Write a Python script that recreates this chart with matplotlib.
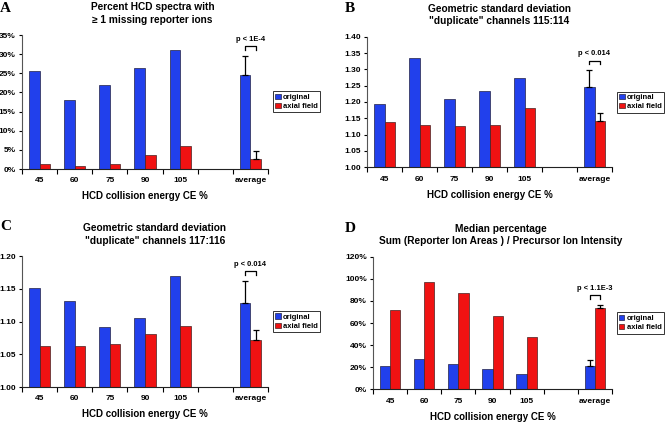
import numpy as np
import matplotlib
matplotlib.use("Agg")
import matplotlib.pyplot as plt
from matplotlib.ticker import FuncFormatter

plt.rcParams['font.family'] = ['Liberation Sans', 'DejaVu Sans']
plt.rcParams['font.weight'] = 'bold'

# categorias del eje x
categorias = ["45", "60", "75", "90", "105", "", "average"]

# A: porcentaje de espectros con >= 1 ion reportero faltante
a_original = [25.7, 18.0, 22.0, 26.3, 31.0, np.nan, 24.5]
a_axial = [1.2, 0.8, 1.2, 3.6, 6.0, np.nan, 2.5]
a_err_original = 5.0
a_err_axial = 2.3

# B: desviacion estandar geometrica 115:114
b_original = [1.194, 1.335, 1.208, 1.233, 1.273, np.nan, 1.247]
b_axial = [1.138, 1.129, 1.127, 1.130, 1.183, np.nan, 1.141]
b_err_original = 0.051
b_err_axial = 0.024

# C: desviacion estandar geometrica 117:116
c_original = [1.151, 1.132, 1.091, 1.105, 1.169, np.nan, 1.129]
c_axial = [1.062, 1.062, 1.065, 1.081, 1.093, np.nan, 1.072]
c_err_original = 0.033
c_err_axial = 0.015

# D: porcentaje mediano
d_original = [21.1, 27.1, 22.6, 18.7, 13.6, np.nan, 20.8]
d_axial = [71.5, 97.1, 86.8, 66.6, 47.3, np.nan, 73.9]
d_err_original = 5.4
d_err_axial = 2.7

AZUL = '#2140ec'
ROJO = '#f01212'

fig = plt.figure(figsize=(6.65, 4.23), dpi=100)
W, H = 665, 423


def ejes(izq, der, arriba, abajo):
    return fig.add_axes([izq / W, 1 - abajo / H, (der - izq) / W, (abajo - arriba) / H])


def panel(ax, orig, axial, err_o, err_a, ylim, yticks, fmt, titulo, p_texto, tx):
    x = np.arange(len(categorias))
    w = 0.3
    ax.bar(x - w / 2, orig, w, color=AZUL, edgecolor='#222244', linewidth=0.5, label='original')
    ax.bar(x + w / 2, axial, w, color=ROJO, edgecolor='#442222', linewidth=0.5, label='axial field')
    # barras de error solo hacia arriba en el promedio
    ax.errorbar(x[-1] - w / 2, orig[-1], yerr=[[0], [err_o]], fmt='none', ecolor='black',
                elinewidth=0.9, capsize=2, capthick=0.9)
    ax.errorbar(x[-1] + w / 2, axial[-1], yerr=[[0], [err_a]], fmt='none', ecolor='black',
                elinewidth=0.9, capsize=2, capthick=0.9)
    ax.set_xlim(-0.5, len(categorias) - 0.5)
    ax.set_ylim(*ylim)
    ax.set_yticks(yticks)
    ax.yaxis.set_major_formatter(FuncFormatter(fmt))
    ax.set_xticks(np.arange(len(categorias) + 1) - 0.5)
    ax.set_xticklabels([])
    ax.set_xticks(x, minor=True)
    ax.set_xticklabels(categorias, minor=True)
    ax.tick_params(axis='x', which='major', length=3.5, width=0.8, direction='out')
    ax.tick_params(axis='x', which='minor', length=0, pad=6, labelsize=6)
    ax.tick_params(axis='y', length=2.5, width=0.8, labelsize=6, pad=2)
    for s in ['top', 'right']:
        ax.spines[s].set_visible(False)
    ax.spines['left'].set_color('#555555')
    ax.spines['bottom'].set_color('#222222')
    ax.spines['left'].set_linewidth(0.8)
    ax.spines['bottom'].set_linewidth(0.8)
    ax.set_xlabel('HCD collision energy CE %', fontsize=7, fontweight='bold', labelpad=5)
    ax.set_title(titulo, fontsize=7.3, fontweight='bold', x=tx, pad=9, linespacing=1.3)
    # corchete de significancia
    lo, hi = ylim
    tope = max(orig[-1] + err_o, axial[-1] + err_a)
    yb = tope + 0.072 * (hi - lo)
    pierna = 0.028 * (hi - lo)
    x0, x1 = x[-1] - w / 2, x[-1] + w / 2
    ax.plot([x0, x0, x1, x1], [yb - pierna, yb, yb, yb - pierna], color='black', lw=0.9)
    ax.text((x0 + x1) / 2, yb + 0.025 * (hi - lo), p_texto, ha='center', va='bottom',
            fontsize=5.4, fontweight='bold')
    leg = ax.legend(loc='upper left', bbox_to_anchor=(1.02, 0.58), fontsize=5.5,
                    frameon=True, fancybox=False, borderpad=0.3, handlelength=0.7,
                    handleheight=0.7, handletextpad=0.3, labelspacing=0.25,
                    borderaxespad=0)
    leg.get_frame().set_edgecolor('black')
    leg.get_frame().set_linewidth(0.7)


pct = lambda v, p: f"{v:.0f}%"
dec = lambda v, p: f"{v:.2f}"

axA = ejes(22, 268, 35, 169)
panel(axA, a_original, a_axial, a_err_original, a_err_axial, (0, 35), np.arange(0, 36, 5), pct,
      'Percent HCD spectra with\n\u2265 1 missing reporter ions', 'p < 1E-4', 0.53)

axB = ejes(367, 612, 36.7, 167.3)
panel(axB, b_original, b_axial, b_err_original, b_err_axial, (1.0, 1.4), np.arange(1.0, 1.401, 0.05), dec,
      'Geometric standard deviation\n"duplicate" channels 115:114', 'p < 0.014', 0.54)

axC = ejes(22, 268, 256, 387)
panel(axC, c_original, c_axial, c_err_original, c_err_axial, (1.0, 1.2), np.arange(1.0, 1.201, 0.05), dec,
      'Geometric standard deviation\n"duplicate" channels 117:116', 'p < 0.014', 0.54)

axD = ejes(373, 612, 256.7, 389.3)
panel(axD, d_original, d_axial, d_err_original, d_err_axial, (0, 120), np.arange(0, 121, 20), pct,
      'Median percentage\nSum (Reporter Ion Areas ) / Precursor Ion Intensity', 'p < 1.1E-3', 0.535)

# letras de los paneles
for letra, (px, py) in zip("ABCD", [(0, 2), (345, 2), (0, 220), (345, 222)]):
    fig.text(px / W, 1 - py / H, letra, family='Liberation Serif', fontweight='bold',
             fontsize=11, va='top', ha='left')

fig.savefig('out.png', dpi=100)
